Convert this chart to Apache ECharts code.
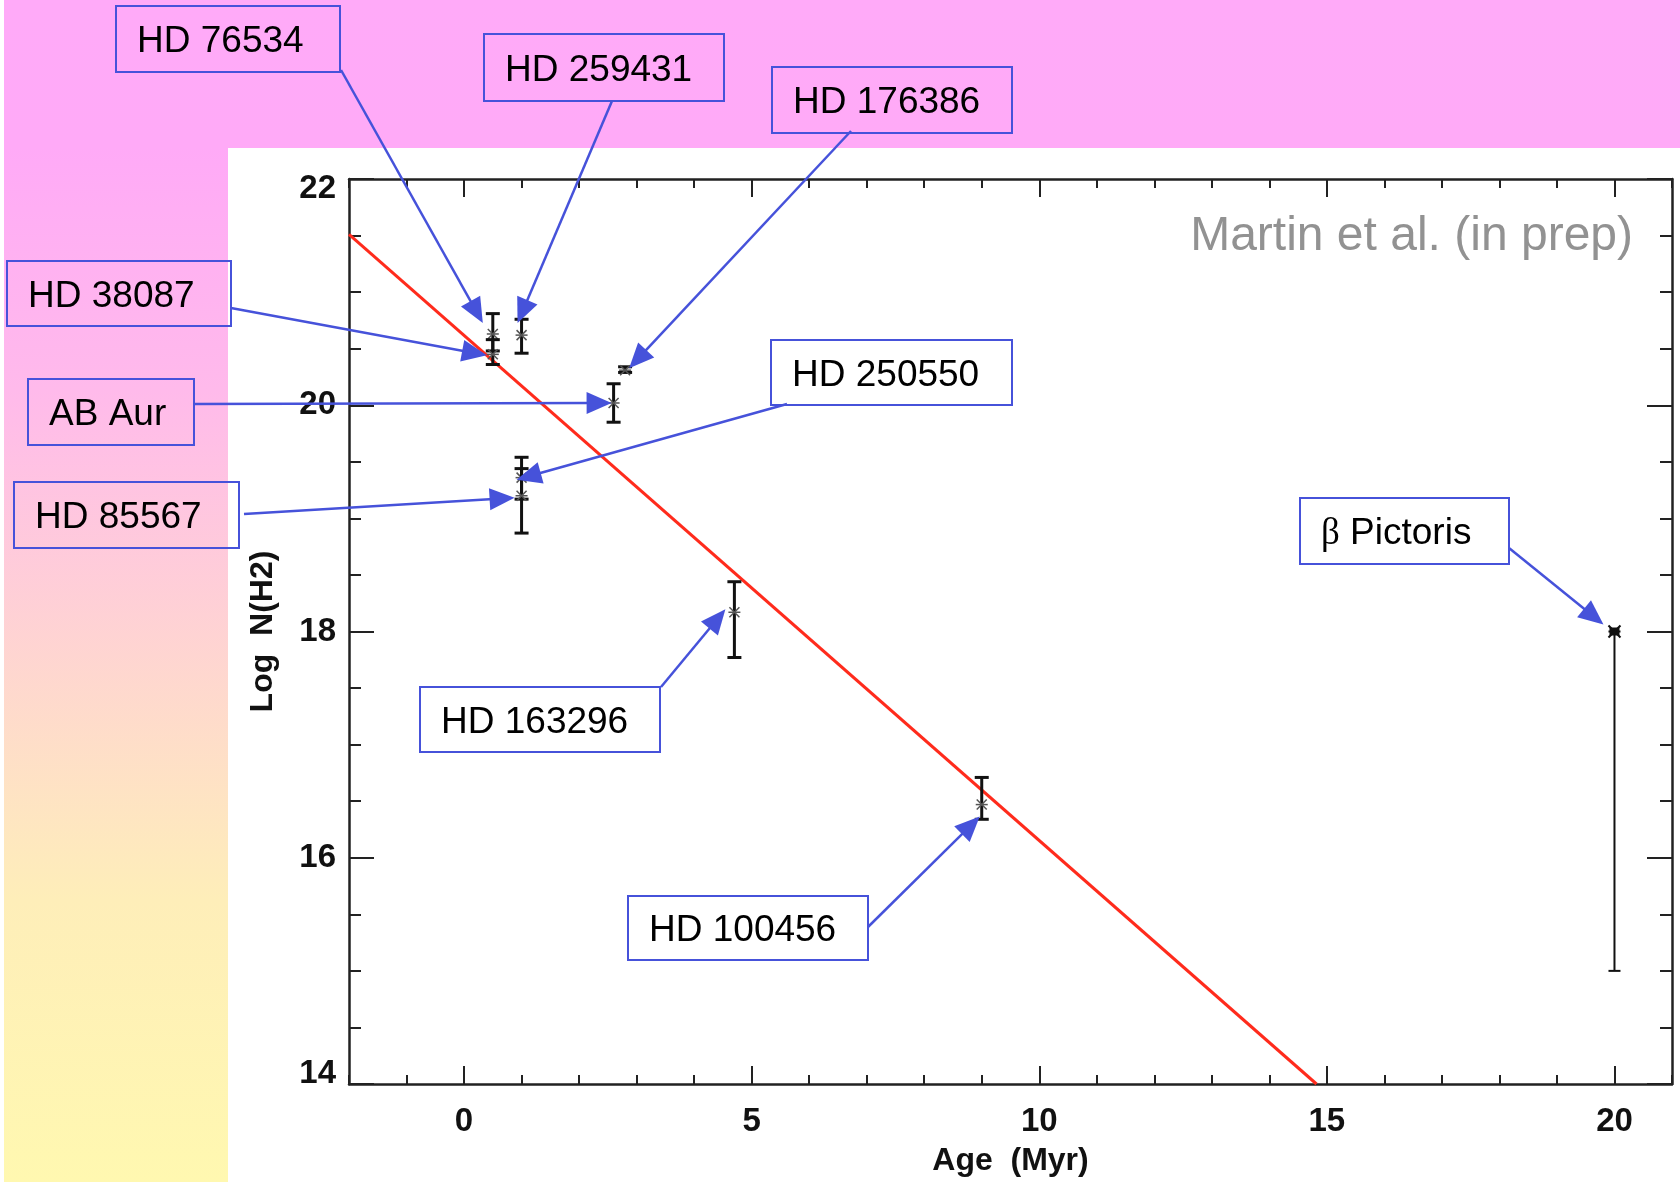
<!DOCTYPE html>
<html><head><meta charset="utf-8">
<script src="https://cdn.jsdelivr.net/npm/echarts@6/dist/echarts.min.js"></script>
<style>
html,body{margin:0;padding:0;width:1680px;height:1182px;overflow:hidden;background:#fff;}
#bg{position:absolute;left:4px;top:0;width:1676px;height:1182px;
 background:linear-gradient(to bottom,#ffaaf8 0px,#ffaaf7 148px,#ffbaeb 390px,#feeeb9 900px,#fff8b0 1182px);}
#panel{position:absolute;left:228px;top:148px;width:1452px;height:1034px;background:#fff;}
#chart{position:absolute;left:0;top:0;width:1680px;height:1182px;}
</style></head>
<body><div id="bg"></div><div id="panel"></div><div id="chart"></div>
<script>
// ---------------- data ----------------
const starNames = ['HD 76534','HD 38087','HD 259431','HD 176386','AB Aur','HD 250550','HD 85567','HD 163296','HD 100456','β Pictoris'];
const ages      = [0.5, 0.5, 1.0, 2.8, 2.6, 1.0, 1.0, 4.7, 9.0, 20.0];
const logN      = [20.63, 20.45, 20.62, 20.31, 20.02, 19.36, 19.20, 18.17, 16.47, 18.00];
const logNLow   = [20.48, 20.36, 20.46, 20.29, 19.85, 19.17, 18.87, 17.77, 16.34, 15.00];
const logNHigh  = [20.81, 20.58, 20.76, 20.34, 20.19, 19.54, 19.44, 18.44, 16.71, 18.00];
const fitAge    = [-2, 14.82];
const fitLogN   = [21.51, 14.0];
const xMajorTicks = [0, 5, 10, 15, 20];
const xRange = [-2, 21];
const yRange = [14, 22];
const creditText = 'Martin et al. (in prep)';
const xTitle = 'Age  (Myr)';
const yTitle = 'Log  N(H2)';

// ---------------- layout / style ----------------
const AX = '#222';
const tickFont = {fontSize:33, fontWeight:'bold', fontFamily:'"Liberation Sans", Arial, sans-serif', color:'#111'};
const titleFont = {fontSize:32, fontWeight:'bold', fontFamily:'"Liberation Sans", Arial, sans-serif', color:'#111'};
const BLUE = '#4652da';
const callouts = [
  {name:'HD 76534',  box:[116,6,224,66],   from:[341,70],   tip:[-10,-11]},
  {name:'HD 259431', box:[484,34,240,67],  from:[612,101],  tip:[-4,-12]},
  {name:'HD 176386', box:[772,67,240,66],  from:[851,131],  tip:[4,-2]},
  {name:'HD 38087',  box:[7,261,224,65],   from:[231,308],  tip:[-6,1]},
  {name:'AB Aur',    box:[28,379,166,66],  from:[194,404],  tip:[-2,0]},
  {name:'HD 85567',  box:[14,482,225,66],  from:[244,514],  tip:[-7,2]},
  {name:'HD 250550', box:[771,340,241,65], from:[787,404],  tip:[-5,2]},
  {name:'HD 163296', box:[420,687,240,65], from:[661,687],  tip:[-9,-3]},
  {name:'HD 100456', box:[628,896,240,64], from:[868,927],  tip:[-2,12]},
  {name:'β Pictoris',box:[1300,498,209,66],from:[1509,548], tip:[-11,-7]}
];

const chart = echarts.init(document.getElementById('chart'), null, {renderer:'canvas'});

const allPts = starNames.map((n,i)=>[ages[i], logN[i], logNLow[i], logNHigh[i], n]);
const herbig = allPts.filter(p=>p[4] !== 'β Pictoris');
const debris = allPts.filter(p=>p[4] === 'β Pictoris');

function errRender(isDebris){
  return function(params, api){
    const x = api.value(0), y = api.value(1), lo = api.value(2), hi = api.value(3);
    const p = api.coord([x,y]), pl = api.coord([x,lo]), ph = api.coord([x,hi]);
    const lw = isDebris ? 2 : 3, cap = isDebris ? 6 : 7;
    const st = {stroke:'#111', lineWidth:lw};
    const ch = [
      {type:'line', shape:{x1:pl[0],y1:pl[1],x2:ph[0],y2:ph[1]}, style:st},
      {type:'line', shape:{x1:pl[0]-cap,y1:pl[1],x2:pl[0]+cap,y2:pl[1]}, style:st},
      {type:'line', shape:{x1:ph[0]-cap,y1:ph[1],x2:ph[0]+cap,y2:ph[1]}, style:st}
    ];
    if (isDebris){
      ch.push({type:'rect', shape:{x:p[0]-5,y:p[1]-4,width:10,height:8}, style:{fill:'#111'}});
      ch.push({type:'line', shape:{x1:p[0]-6,y1:p[1]-6,x2:p[0]+6,y2:p[1]+6}, style:{stroke:'#111',lineWidth:2}});
      ch.push({type:'line', shape:{x1:p[0]-6,y1:p[1]+6,x2:p[0]+6,y2:p[1]-6}, style:{stroke:'#111',lineWidth:2}});
    } else {
      const s = {stroke:'#555', lineWidth:1.5};
      ch.push({type:'line', shape:{x1:p[0]-6,y1:p[1],x2:p[0]+6,y2:p[1]}, style:s});
      ch.push({type:'line', shape:{x1:p[0]-5,y1:p[1]-5,x2:p[0]+5,y2:p[1]+5}, style:s});
      ch.push({type:'line', shape:{x1:p[0]-5,y1:p[1]+5,x2:p[0]+5,y2:p[1]-5}, style:s});
    }
    return {type:'group', children:ch};
  };
}

function xAx(pos, major, withLabel){
  const o = {type:'value', position:pos, min:xRange[0], max:xRange[1], interval:1,
    axisLine:{show:!major, onZero:false, lineStyle:{color:AX, width:2.5}},
    axisTick:{show:true, inside:true, length: major ? 18 : 9, lineStyle:{color:AX, width:2}},
    axisLabel:{show:false}, splitLine:{show:false}};
  if (major) o.axisTick.customValues = xMajorTicks;
  if (withLabel){
    o.axisLabel = Object.assign({show:true, margin:21, customValues:xMajorTicks,
      formatter: v => xMajorTicks.indexOf(v) >= 0 ? String(v) : ''}, tickFont);
    o.name = xTitle; o.nameLocation = 'middle'; o.nameGap = 61;
    o.nameTextStyle = Object.assign({}, titleFont);
  }
  return o;
}
function yAx(pos, withLabel){
  const o = {type:'value', position:pos, min:yRange[0], max:yRange[1], interval:2,
    axisLine:{show:true, onZero:false, lineStyle:{color:AX, width:2.5}},
    axisTick:{show:true, inside:true, length:25, lineStyle:{color:AX, width:2}},
    minorTick:{show:true, splitNumber:4, length:12, lineStyle:{color:AX, width:2}},
    axisLabel:{show:false}, splitLine:{show:false}};
  if (withLabel){
    o.axisLabel = Object.assign({show:true, margin:13, lineHeight:20,
      verticalAlignMinLabel:'bottom', verticalAlignMaxLabel:'top'}, tickFont);
    o.name = yTitle; o.nameLocation = 'middle'; o.nameRotate = 90; o.nameGap = 70;
    o.nameTextStyle = Object.assign({}, titleFont);
  }
  return o;
}

chart.setOption({
  backgroundColor:'transparent',
  animation:false,
  grid:{left:349, right:8, top:179, bottom:97, containLabel:false},
  xAxis:[xAx('bottom',false,true), xAx('bottom',true,false), xAx('top',false,false), xAx('top',true,false)],
  yAxis:[yAx('left',true), yAx('right',false)],
  series:[
    {type:'line', name:'fit', xAxisIndex:0, yAxisIndex:0, showSymbol:false, z:2,
     data: fitAge.map((a,i)=>[a, fitLogN[i]]), lineStyle:{color:'#ff2b1c', width:3}},
    {type:'custom', name:'Herbig Ae/Be', xAxisIndex:0, yAxisIndex:0, z:3,
     data: herbig, renderItem: errRender(false)},
    {type:'custom', name:'β Pictoris', xAxisIndex:0, yAxisIndex:0, z:3,
     data: debris, renderItem: errRender(true)}
  ]
});

// ---------------- annotations ----------------
const gfx = [];
gfx.push({type:'text', z:100, style:{x:1633, y:237, text:creditText, align:'right', verticalAlign:'middle',
  font:'48px "Liberation Sans", Arial, sans-serif', fill:'#929292'}});
callouts.forEach(c=>{
  const i = starNames.indexOf(c.name);
  const p = chart.convertToPixel({xAxisIndex:0, yAxisIndex:0}, [ages[i], logN[i]]);
  const tip = [p[0]+c.tip[0], p[1]+c.tip[1]];
  const [bx,by,bw,bh] = c.box;
  gfx.push({type:'rect', z:100, shape:{x:bx,y:by,width:bw,height:bh}, style:{fill:'none', stroke:BLUE, lineWidth:2}});
  const isBeta = c.name.indexOf('β') === 0;
  gfx.push({type:'text', z:100, style:{x:bx+21, y:by+bh/2+3,
    text: isBeta ? '{b|β} Pictoris' : c.name,
    rich: isBeta ? {b:{font:'37px "Liberation Serif", serif', fill:'#000'}} : undefined,
    verticalAlign:'middle', align:'left', font:'37px "Liberation Sans", Arial, sans-serif', fill:'#000'}});
  const dx = tip[0]-c.from[0], dy = tip[1]-c.from[1];
  const L = Math.hypot(dx,dy), ux = dx/L, uy = dy/L, nx = -uy, ny = ux;
  const hl = 25, hw = 11;
  const bxp = tip[0]-ux*hl, byp = tip[1]-uy*hl;
  gfx.push({type:'line', z:100, shape:{x1:c.from[0],y1:c.from[1],x2:bxp+ux*4,y2:byp+uy*4}, style:{stroke:BLUE, lineWidth:2.5}});
  gfx.push({type:'polygon', z:100, shape:{points:[tip,[bxp+nx*hw,byp+ny*hw],[bxp-nx*hw,byp-ny*hw]]}, style:{fill:BLUE}});
});
chart.setOption({graphic:gfx});
</script>
</body></html>
